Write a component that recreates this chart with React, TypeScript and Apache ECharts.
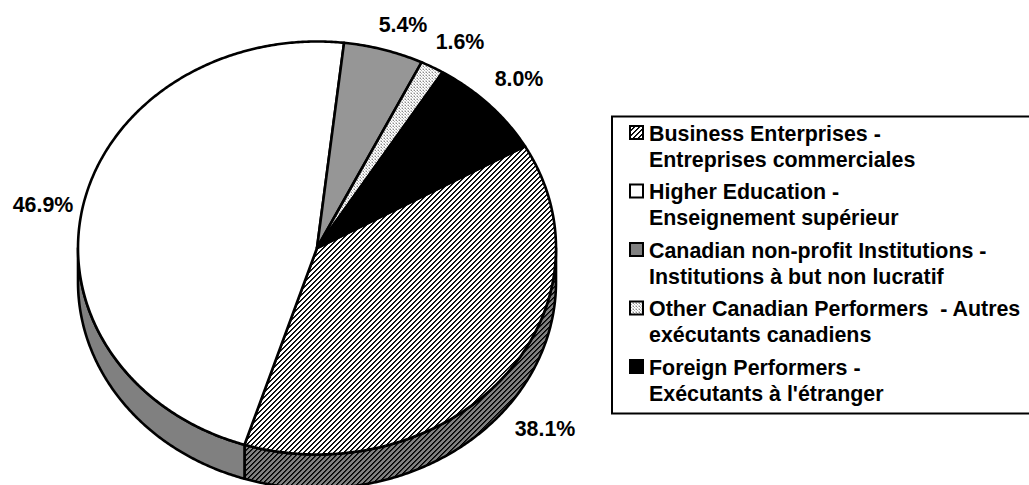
import React, { useEffect, useRef } from "react";
import * as echarts from "echarts";

const FONT = '"Liberation Sans", Arial, sans-serif';

const categories = ["Business Enterprises", "Higher Education", "Canadian non-profit Institutions", "Other Canadian Performers", "Foreign Performers"];
const shares = [38.1, 46.9, 5.4, 1.6, 8.0];
const legendLines = [
  ["Business Enterprises -", "Entreprises commerciales"],
  ["Higher Education -", "Enseignement supérieur"],
  ["Canadian non-profit Institutions -", "Institutions à but non lucratif"],
  ["Other Canadian Performers  - Autres", "exécutants canadiens"],
  ["Foreign Performers -", "Exécutants à l'étranger"],
];
const labelPositions = [
  [545, 429],
  [43, 205],
  [403, 24.5],
  [460, 41.5],
  [519, 79],
];

const CX = 317;
const CY = 248;
const RX = 239;
const RY = 206.5;
const DEPTH = 34;
const START_DEG = 60.5;
const FONT_SIZE = 21.4;

function makeCanvas(size: number, draw: (c: CanvasRenderingContext2D) => void) {
  const cv = document.createElement("canvas");
  cv.width = size;
  cv.height = size;
  draw(cv.getContext("2d")!);
  return cv;
}

function hatch(bg: string) {
  return makeCanvas(5, (c) => {
    for (let x = 0; x < 5; x++) {
      for (let y = 0; y < 5; y++) {
        const d = (x + y) % 5;
        c.fillStyle = d === 0 ? "#000" : d === 1 ? "#222" : bg;
        c.fillRect(x, y, 1, 1);
      }
    }
  });
}

function dots() {
  return makeCanvas(3, (c) => {
    c.fillStyle = "#fff";
    c.fillRect(0, 0, 3, 3);
    c.fillStyle = "#8a8a8a";
    c.fillRect(0, 0, 1, 1);
    c.fillStyle = "#b4b4b4";
    c.fillRect(1, 1, 1, 1);
    c.fillStyle = "#d8d8d8";
    c.fillRect(2, 2, 1, 1);
    c.fillRect(2, 0, 1, 1);
    c.fillRect(0, 2, 1, 1);
  });
}

function rim(deg: number, dy = 0): [number, number] {
  const t = (deg * Math.PI) / 180;
  return [CX + RX * Math.sin(t), CY - RY * Math.cos(t) + dy];
}

function arcPoints(a: number, b: number, dy = 0) {
  const pts: [number, number][] = [];
  const n = Math.max(2, Math.ceil(Math.abs(b - a) * 2));
  for (let i = 0; i <= n; i++) pts.push(rim(a + ((b - a) * i) / n, dy));
  return pts;
}

function sliceAngles() {
  const total = shares.reduce((s, v) => s + v, 0);
  let acc = START_DEG;
  return shares.map((v) => {
    const a = acc;
    acc += (v / total) * 360;
    return [a, acc];
  });
}

export default function App() {
  const ref = useRef<HTMLDivElement>(null);

  useEffect(() => {
    document.body.style.margin = "0";
    const chart = echarts.init(ref.current!, undefined, { renderer: "svg" });
    const angles = sliceAngles();
    const hatchTop = { image: hatch("#ffffff"), repeat: "repeat" };
    const hatchSide = { image: hatch("#808080"), repeat: "repeat" };
    const dotFill = { image: dots(), repeat: "repeat" };
    const topFills: any[] = [hatchTop, "#ffffff", "#969696", dotFill, "#000000"];
    const swatchFills: any[] = [hatchTop, "#ffffff", "#808080", dotFill, "#000000"];
    const sideFills: any[] = [hatchSide, "#808080", "#808080", "#808080", "#808080"];
    const data = shares.map((v, i) => ({ name: categories[i], value: v }));

    const stroke = { stroke: "#000", lineWidth: 2.6, lineJoin: "round" };

    const legendGraphics: any[] = [
      {
        type: "polyline",
        shape: { points: [[1031, 116.5], [612, 116.5], [612, 413.5], [1031, 413.5]] },
        style: { fill: "none", stroke: "#000", lineWidth: 2 },
      },
    ];
    legendLines.forEach((lines, i) => {
      const y = 133 + i * 58.5;
      legendGraphics.push({
        type: "rect",
        shape: { x: 630, y: y - 7, width: 13, height: 13 },
        style: { fill: swatchFills[i], stroke: "#000", lineWidth: 2 },
      });
      lines.forEach((line, j) => {
        legendGraphics.push({
          type: "text",
          x: 649,
          y: y + 0.8 + j * 26,
          style: {
            text: line,
            fill: "#000",
            fontFamily: FONT,
            fontWeight: "bold",
            fontSize: FONT_SIZE,
            align: "left",
            verticalAlign: "middle",
          },
        });
      });
    });

    chart.setOption({
      animation: false,
      tooltip: { show: false },
      graphic: legendGraphics,
      series: [
        {
          type: "custom",
          name: "Side",
          coordinateSystem: "none",
          silent: true,
          data,
          renderItem: (p: any) => {
            const [a, b] = angles[p.dataIndex];
            const lo = Math.max(a, 90);
            const hi = Math.min(b, 270);
            if (hi <= lo) return { type: "group", children: [] };
            const pts = [...arcPoints(lo, hi), ...arcPoints(hi, lo, DEPTH)];
            return { type: "polygon", shape: { points: pts }, style: { fill: sideFills[p.dataIndex], ...stroke } };
          },
        },
        {
          type: "custom",
          name: "Top",
          coordinateSystem: "none",
          silent: true,
          data,
          renderItem: (p: any, api: any) => {
            const [a, b] = angles[p.dataIndex];
            const pts = [[CX, CY], ...arcPoints(a, b)];
            const [lx, ly] = labelPositions[p.dataIndex];
            return {
              type: "group",
              children: [
                { type: "polygon", shape: { points: pts }, style: { fill: topFills[p.dataIndex], ...stroke } },
                {
                  type: "text",
                  x: lx,
                  y: ly,
                  z2: 10,
                  style: {
                    text: `${Number(api.value(0)).toFixed(1)}%`,
                    fill: "#000",
                    fontFamily: FONT,
                    fontWeight: "bold",
                    fontSize: FONT_SIZE,
                    align: "center",
                    verticalAlign: "middle",
                  },
                },
              ],
            };
          },
        },
      ],
    });
    return () => chart.dispose();
  }, []);

  return <div ref={ref} style={{ width: 1029, height: 485, background: "#fff", overflow: "hidden" }} />;
}
